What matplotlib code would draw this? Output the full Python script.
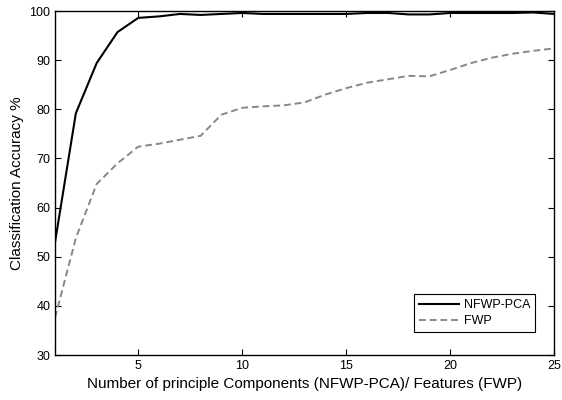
import matplotlib
matplotlib.use("Agg")
import matplotlib.pyplot as plt

plt.rcParams['font.family'] = ['Liberation Sans', 'DejaVu Sans']

n_components = list(range(1, 26))
nfwp_pca = [53.0, 79.2, 89.4, 95.7, 98.6, 98.9, 99.4, 99.2, 99.4, 99.6,
            99.4, 99.4, 99.4, 99.4, 99.4, 99.6, 99.6, 99.3, 99.3, 99.6,
            99.6, 99.6, 99.6, 99.7, 99.4]
fwp = [37.6, 53.8, 64.8, 69.0, 72.4, 73.0, 73.8, 74.6, 78.9, 80.3,
       80.6, 80.8, 81.4, 83.0, 84.3, 85.4, 86.1, 86.8, 86.7, 88.0,
       89.4, 90.5, 91.3, 91.9, 92.4]

fig = plt.figure(figsize=(5.62, 4.0), dpi=100)
ax = fig.add_axes([0.098, 0.1125, 0.888, 0.86])

ax.plot(n_components, nfwp_pca, color='black', lw=1.5, label='NFWP-PCA')
ax.plot(n_components, fwp, color='#888888', lw=1.4, ls=(0, (3.5, 2)), label='FWP')

ax.set_xlim(1, 25)
ax.set_ylim(30, 100)
ax.set_xticks([5, 10, 15, 20, 25])
ax.set_yticks([30, 40, 50, 60, 70, 80, 90, 100])
ax.tick_params(direction='in', top=True, right=True, labelsize=9, length=4, width=0.8)
for s in ax.spines.values():
    s.set_linewidth(1.0)

ax.set_xlabel('Number of principle Components (NFWP-PCA)/ Features (FWP)', fontsize=11, labelpad=4)
ax.set_ylabel('Classification Accuracy %', fontsize=11, labelpad=4)

leg = ax.legend(loc='lower right', bbox_to_anchor=(0.97, 0.055), fontsize=9,
                fancybox=False, edgecolor='black', framealpha=1,
                handlelength=3.2, handletextpad=0.4, borderpad=0.4, labelspacing=0.35,
                borderaxespad=0.3)
leg.get_frame().set_linewidth(0.8)

fig.savefig('out.png', dpi=100)
